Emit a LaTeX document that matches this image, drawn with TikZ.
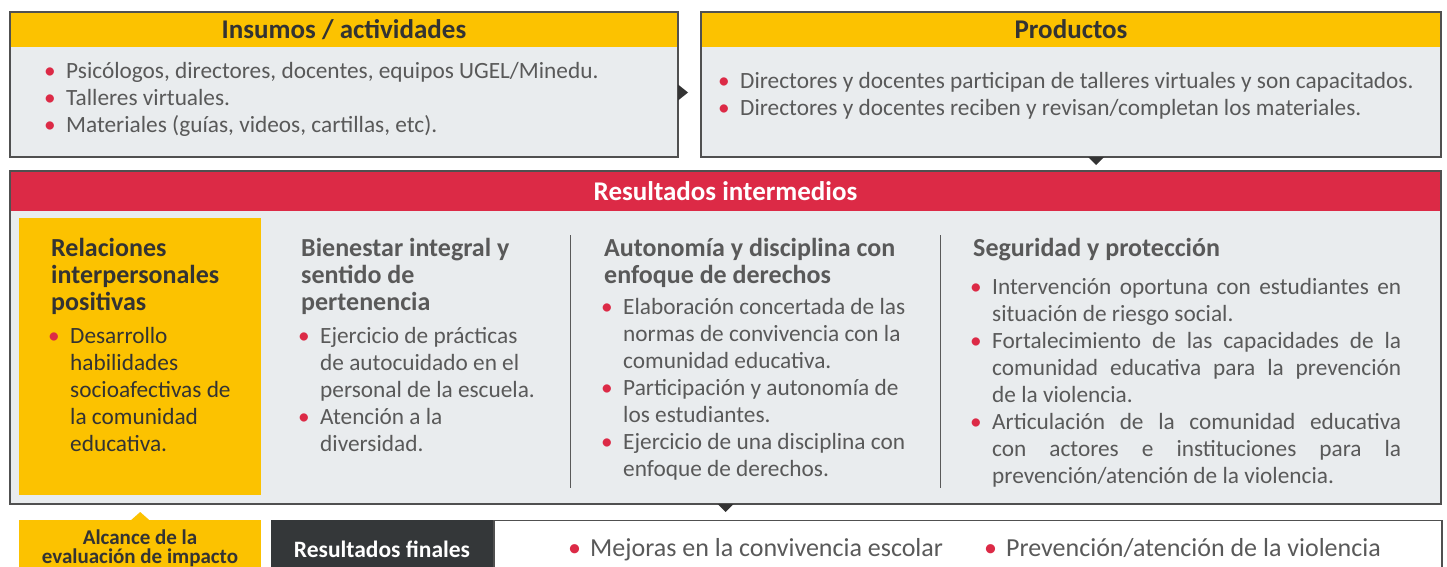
\documentclass[tikz,border=0pt]{standalone}
\usepackage{fontspec}
\setmainfont{Carlito}
\usetikzlibrary{positioning}
\definecolor{hdryellow}{RGB}{252, 194, 0}
\definecolor{resred}{RGB}{220, 42, 70}
\definecolor{panelgray}{RGB}{233, 236, 238}
\definecolor{edgegray}{RGB}{80, 80, 80}
\definecolor{textgray}{RGB}{89, 89, 89}
\definecolor{darktext}{RGB}{51, 51, 51}
\definecolor{finaldark}{RGB}{52, 55, 57}
\newcommand\redbul{\llap{\hbox to 22pt{\textcolor{resred}{\textbullet}\hss}}}
\newcommand\bitem[1]{\par\noindent\redbul#1\par}
\newcommand\ragbox[2]{\parbox[t]{#1}{\raggedright#2}}
\newcommand\justbox[2]{\parbox[t]{#1}{\parindent=0pt #2}}

\begin{document}
\begin{tikzpicture}[x=1pt, y=-1pt,
  panel/.style={draw=edgegray, fill=panelgray, line width=1.2pt, anchor=north west, inner sep=0pt, outer sep=0pt},
  hdr/.style={fill=hdryellow, anchor=north west, inner sep=0pt, outer sep=0pt, text=darktext, font=\fontsize{27}{30}\selectfont\bfseries},
  coltitle/.style={anchor=base west, inner sep=0pt, text=textgray, font=\fontsize{26}{27}\selectfont\bfseries},
  colitems/.style={anchor=base west, inner sep=0pt, text=textgray, font=\fontsize{23.3}{27}\selectfont},
  tri/.style={fill=darktext}]
  \useasboundingbox (0,0) rectangle (1447,567);

  % Insumos / actividades
  \node[panel, minimum width=668pt, minimum height=145pt] (ins) at (10,12) {};
  \node[hdr, minimum width=668pt, minimum height=35pt] (inshdr) at (ins.north west) {Insumos / actividades};
  \draw[edgegray, line width=1.2pt] (ins.north west) rectangle (ins.south east);
  \node[colitems] (insitems) at (66,79) {\ragbox{590pt}{%
    \bitem{Psicólogos, directores, docentes, equipos UGEL/Minedu.}
    \bitem{Talleres virtuales.}
    \bitem{Materiales (guías, videos, cartillas, etc).}}};

  % Productos
  \node[panel, minimum width=740pt, minimum height=145pt] (prod) at (701,12) {};
  \node[hdr, minimum width=740pt, minimum height=35pt] (prodhdr) at (prod.north west) {Productos};
  \draw[edgegray, line width=1.2pt] (prod.north west) rectangle (prod.south east);
  \node[colitems] (proditems) at (740,89) {\ragbox{690pt}{%
    \bitem{Directores y docentes participan de talleres virtuales y son capacitados.}
    \bitem{Directores y docentes reciben y revisan/completan los materiales.}}};

  \fill[tri] (ins.east) -- ++(10,8) -- ++(-10,8) -- cycle;
  \fill[tri] ([xshift=17pt]prod.south) -- ++(16,0) -- ++(-8,8) -- cycle;

  % Resultados intermedios
  \node[panel, minimum width=1431pt, minimum height=333pt] (res) at (10,171) {};
  \node[hdr, fill=resred, text=white, minimum width=1431pt, minimum height=40pt] (reshdr) at (res.north west) {Resultados intermedios};
  \draw[edgegray, line width=1.2pt] (res.north west) rectangle (res.south east);
  \node[fill=hdryellow, anchor=north west, inner sep=0pt, minimum width=242pt, minimum height=277pt] (relbox) at (19,218) {};

  % Column titles
  \node[coltitle, text=darktext] (reltitle) at (51,256) {\ragbox{205pt}{Relaciones\\interpersonales\\positivas}};
  \node[coltitle] (bientitle) at (301,256) {\ragbox{260pt}{Bienestar integral y\\sentido de\\pertenencia}};
  \node[coltitle] (autotitle) at (604,256) {\ragbox{330pt}{Autonomía y disciplina con\\enfoque de derechos}};
  \node[coltitle] (segtitle) at (973,256) {\ragbox{430pt}{Seguridad y protección}};

  % Column items
  \node[colitems, text=darktext] (relitems) at (70,343) {\ragbox{185pt}{%
    \bitem{Desarrollo\\habilidades\\socioafectivas de\\la comunidad\\educativa.}}};
  \node[colitems] (bienitems) at (320,343) {\ragbox{240pt}{%
    \bitem{Ejercicio de prácticas\\de autocuidado en el\\personal de la escuela.}
    \bitem{Atención a la\\diversidad.}}};
  \node[colitems] (autoitems) at (623,314) {\ragbox{310pt}{%
    \bitem{Elaboración concertada de las\\normas de convivencia con la\\comunidad educativa.}
    \bitem{Participación y autonomía de\\los estudiantes.}
    \bitem{Ejercicio de una disciplina con\\enfoque de derechos.}}};
  \node[colitems] (segitems) at (992,294) {\justbox{409pt}{%
    \bitem{Intervención oportuna con estudiantes en\linebreak situación de riesgo social.}
    \bitem{Fortalecimiento de las capacidades de la\linebreak comunidad educativa para la prevención\linebreak de la violencia.}
    \bitem{Articulación de la comunidad educativa\linebreak con actores e instituciones para la\linebreak prevención/atención de la violencia.}}};

  % Dividers
  \draw[textgray, line width=1pt] (570,235) -- (570,488);
  \draw[textgray, line width=1pt] (940,235) -- (940,488);

  \fill[tri] ([xshift=-8pt]res.south) -- ++(16,0) -- ++(-8,8) -- cycle;

  % Resultados finales
  \node[fill=hdryellow, anchor=north west, inner sep=0pt, minimum width=242pt, minimum height=60pt] (alc) at (19,520) {};
  \fill[hdryellow] ([xshift=-9pt]alc.north) -- ++(18,0) -- ++(-9,-8) -- cycle;
  \node[align=center, inner sep=0pt, text=darktext, font=\fontsize{21}{19}\selectfont\bfseries] (alctext) at (140,548) {Alcance de la\\evaluación de impacto};
  \node[fill=finaldark, anchor=north west, inner sep=0pt, minimum width=222pt, minimum height=60pt] (fin) at (271,520) {};
  \node[text=white, inner sep=0pt, font=\fontsize{23.5}{27}\selectfont\bfseries] (fintext) at (382,549) {Resultados finales};
  \node[draw=edgegray, line width=1.2pt, anchor=north west, inner sep=0pt, minimum width=948pt, minimum height=60pt] (finbox) at (fin.north east) {};
  \node[colitems, font=\fontsize{26}{27}\selectfont] (fin1) at (590,556) {\redbul Mejoras en la convivencia escolar};
  \node[colitems, font=\fontsize{26}{27}\selectfont] (fin2) at (1006,556) {\redbul Prevención/atención de la violencia};
\end{tikzpicture}
\end{document}
